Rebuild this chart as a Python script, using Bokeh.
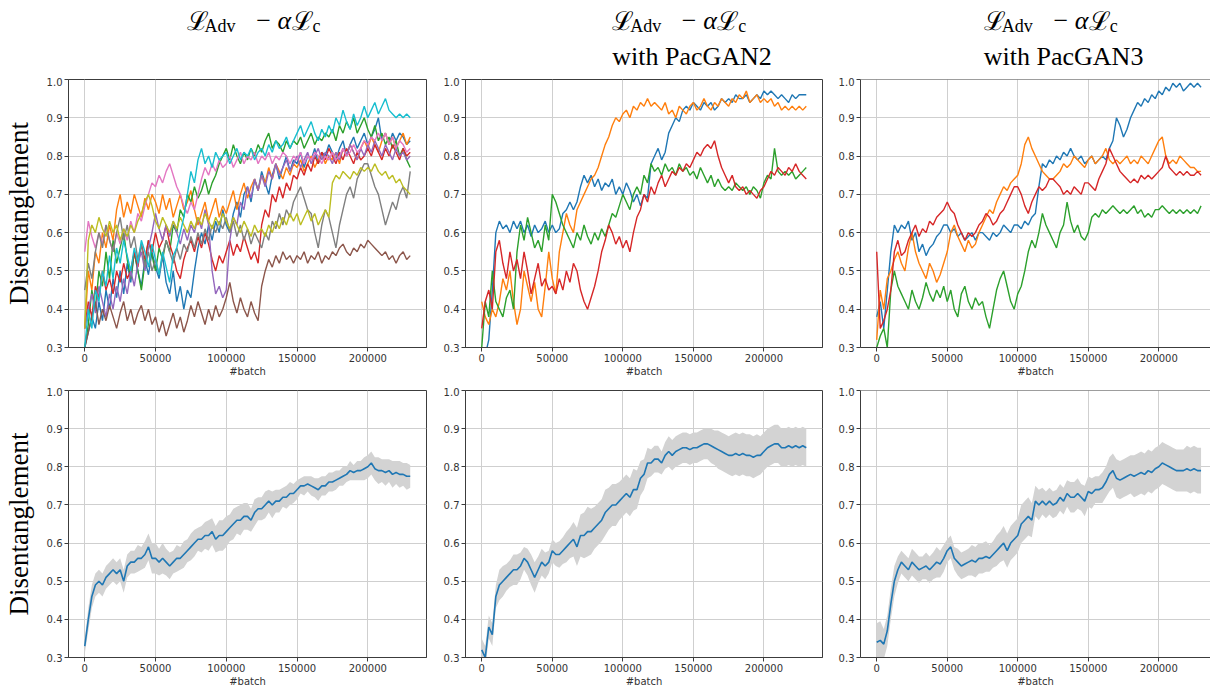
from bokeh.plotting import figure
from bokeh.layouts import column, row
from bokeh.models import (Range1d, FixedTicker, PrintfTickFormatter,
                          BasicTickFormatter, Label, Span)
from bokeh.embed import file_html
from bokeh.resources import INLINE

# training progress, one sample every 2500 batches (0 .. 230000)
batch = list(range(0, 232500, 2500))

TAB10 = ["#1f77b4", "#ff7f0e", "#2ca02c", "#d62728", "#9467bd",
         "#8c564b", "#e377c2", "#7f7f7f", "#bcbd22", "#17becf"]

# ---- L_Adv - alpha L_c : ten runs ----
plain_blue = [0.30, 0.34, 0.38, 0.35, 0.42, 0.37, 0.45, 0.40, 0.48, 0.43,
              0.50, 0.44, 0.52, 0.47, 0.55, 0.50, 0.46, 0.53, 0.49, 0.55,
              0.51, 0.48, 0.54, 0.47, 0.44, 0.50, 0.42, 0.46, 0.40, 0.45,
              0.43, 0.50, 0.56, 0.60, 0.57, 0.62, 0.58, 0.63, 0.60, 0.66,
              0.62, 0.60, 0.65, 0.68, 0.64, 0.70, 0.72, 0.68, 0.74, 0.71,
              0.76, 0.73, 0.70, 0.75, 0.78, 0.74, 0.77, 0.80, 0.76, 0.79,
              0.78, 0.81, 0.77, 0.80, 0.79, 0.82, 0.78, 0.81, 0.80, 0.83,
              0.81, 0.79, 0.82, 0.84, 0.80, 0.83, 0.85, 0.82, 0.84, 0.86,
              0.83, 0.85, 0.87, 0.90, 0.84, 0.86, 0.83, 0.86, 0.84, 0.86,
              0.85, 0.83, 0.84]
plain_orange = [0.35, 0.50, 0.45, 0.55, 0.52, 0.60, 0.56, 0.62, 0.58, 0.66,
                0.70, 0.64, 0.68, 0.65, 0.70, 0.67, 0.64, 0.69, 0.66, 0.70,
                0.68, 0.65, 0.70, 0.66, 0.69, 0.64, 0.67, 0.70, 0.66, 0.68,
                0.71, 0.66, 0.62, 0.65, 0.68, 0.63, 0.66, 0.69, 0.64, 0.67,
                0.65, 0.68, 0.71, 0.66, 0.70, 0.73, 0.69, 0.72, 0.74, 0.71,
                0.75, 0.73, 0.77, 0.74, 0.78, 0.76, 0.74, 0.77, 0.75, 0.78,
                0.77, 0.79, 0.76, 0.78, 0.80, 0.77, 0.79, 0.81, 0.78, 0.80,
                0.79, 0.81, 0.78, 0.82, 0.80, 0.83, 0.81, 0.79, 0.82, 0.84,
                0.82, 0.85, 0.83, 0.81, 0.84, 0.86, 0.83, 0.85, 0.82, 0.84,
                0.86, 0.83, 0.85]
plain_green = [0.30, 0.36, 0.45, 0.40, 0.50, 0.46, 0.55, 0.48, 0.58, 0.52,
               0.56, 0.60, 0.53, 0.48, 0.55, 0.50, 0.45, 0.52, 0.58, 0.54,
               0.50, 0.56, 0.53, 0.58, 0.55, 0.62, 0.60, 0.66, 0.64, 0.70,
               0.68, 0.72, 0.69, 0.71, 0.74, 0.70, 0.73, 0.75, 0.78, 0.80,
               0.82, 0.79, 0.83, 0.80, 0.78, 0.81, 0.79, 0.82, 0.80, 0.83,
               0.81, 0.84, 0.86, 0.82, 0.84, 0.83, 0.81, 0.84, 0.82, 0.84,
               0.83, 0.85, 0.82, 0.84, 0.86, 0.83, 0.85, 0.84, 0.86, 0.85,
               0.87, 0.84, 0.88, 0.86, 0.89, 0.87, 0.90, 0.86, 0.88, 0.90,
               0.87, 0.85, 0.88, 0.84, 0.86, 0.83, 0.85, 0.82, 0.84, 0.80,
               0.82, 0.79, 0.77]
plain_red = [0.35, 0.42, 0.38, 0.46, 0.43, 0.50, 0.45, 0.48, 0.44, 0.50,
             0.47, 0.52, 0.48, 0.50, 0.55, 0.51, 0.57, 0.53, 0.58, 0.55,
             0.60, 0.56, 0.58, 0.62, 0.57, 0.54, 0.50, 0.48, 0.53, 0.56,
             0.58, 0.55, 0.59, 0.56, 0.60, 0.57, 0.53, 0.50, 0.54, 0.52,
             0.55, 0.58, 0.54, 0.57, 0.55, 0.59, 0.56, 0.53, 0.55, 0.52,
             0.62, 0.66, 0.64, 0.70, 0.68, 0.72, 0.69, 0.73, 0.71, 0.75,
             0.74, 0.77, 0.75, 0.78, 0.76, 0.80, 0.78, 0.81, 0.79, 0.82,
             0.80, 0.78, 0.81, 0.79, 0.82, 0.80, 0.78, 0.81, 0.79, 0.80,
             0.82, 0.80, 0.83, 0.81, 0.79, 0.82, 0.80, 0.83, 0.81, 0.79,
             0.82, 0.80, 0.81]
plain_purple = [0.35, 0.40, 0.44, 0.39, 0.46, 0.42, 0.38, 0.44, 0.40, 0.46,
                0.42, 0.48, 0.44, 0.50, 0.46, 0.52, 0.55, 0.50, 0.56, 0.60,
                0.65, 0.61, 0.58, 0.62, 0.59, 0.63, 0.60, 0.57, 0.61, 0.58,
                0.62, 0.60, 0.64, 0.61, 0.66, 0.62, 0.50, 0.44, 0.46, 0.43,
                0.45, 0.58, 0.64, 0.62, 0.68, 0.66, 0.72, 0.69, 0.74, 0.71,
                0.75, 0.72, 0.76, 0.74, 0.78, 0.75, 0.77, 0.79, 0.76, 0.78,
                0.80, 0.77, 0.79, 0.81, 0.78, 0.80, 0.82, 0.79, 0.81, 0.80,
                0.78, 0.81, 0.79, 0.82, 0.80, 0.83, 0.81, 0.79, 0.82, 0.80,
                0.83, 0.81, 0.84, 0.82, 0.80, 0.83, 0.81, 0.79, 0.82, 0.80,
                0.81, 0.79, 0.80]
plain_brown = [0.30, 0.34, 0.38, 0.42, 0.36, 0.40, 0.37, 0.41, 0.38, 0.35,
               0.39, 0.42, 0.37, 0.40, 0.36, 0.39, 0.41, 0.37, 0.40, 0.36,
               0.38, 0.34, 0.37, 0.33, 0.36, 0.39, 0.35, 0.38, 0.34, 0.37,
               0.41, 0.38, 0.42, 0.39, 0.36, 0.40, 0.37, 0.41, 0.38, 0.40,
               0.43, 0.47, 0.42, 0.39, 0.43, 0.40, 0.38, 0.42, 0.39, 0.37,
               0.46, 0.50, 0.53, 0.51, 0.54, 0.52, 0.55, 0.53, 0.54, 0.52,
               0.54, 0.53, 0.55, 0.52, 0.54, 0.53, 0.55, 0.52, 0.54, 0.53,
               0.55, 0.54, 0.56, 0.57, 0.55, 0.54, 0.56, 0.55, 0.57, 0.56,
               0.58, 0.57, 0.56, 0.55, 0.54, 0.55, 0.53, 0.54, 0.52, 0.54,
               0.55, 0.53, 0.54]
plain_pink = [0.55, 0.63, 0.59, 0.56, 0.60, 0.57, 0.62, 0.58, 0.55, 0.60,
              0.57, 0.61, 0.58, 0.63, 0.60, 0.65, 0.63, 0.67, 0.70, 0.73,
              0.72, 0.75, 0.73, 0.76, 0.78, 0.75, 0.72, 0.70, 0.67, 0.65,
              0.68, 0.66, 0.70, 0.74, 0.77, 0.75, 0.78, 0.76, 0.79, 0.77,
              0.78, 0.80, 0.77, 0.79, 0.81, 0.78, 0.80, 0.79, 0.81, 0.78,
              0.80, 0.79, 0.81, 0.78, 0.80, 0.79, 0.81, 0.80, 0.78, 0.80,
              0.79, 0.81, 0.78, 0.80, 0.79, 0.81, 0.80, 0.78, 0.80, 0.79,
              0.81, 0.79, 0.80, 0.82, 0.80, 0.81, 0.83, 0.81, 0.82, 0.84,
              0.83, 0.85, 0.84, 0.86, 0.84, 0.86, 0.83, 0.85, 0.82, 0.84,
              0.83, 0.81, 0.82]
plain_gray = [0.45, 0.52, 0.48, 0.55, 0.60, 0.56, 0.62, 0.58, 0.55, 0.60,
              0.64, 0.58, 0.62, 0.56, 0.59, 0.53, 0.57, 0.51, 0.55, 0.50,
              0.53, 0.49, 0.54, 0.58, 0.55, 0.52, 0.56, 0.53, 0.57, 0.55,
              0.59, 0.56, 0.60, 0.57, 0.61, 0.58, 0.62, 0.60, 0.63, 0.61,
              0.64, 0.60, 0.63, 0.59, 0.62, 0.58, 0.61, 0.57, 0.60, 0.58,
              0.56, 0.60, 0.58, 0.63, 0.61, 0.65, 0.62, 0.66, 0.64, 0.68,
              0.70, 0.72, 0.69, 0.66, 0.65, 0.60, 0.56, 0.62, 0.66, 0.64,
              0.60, 0.56, 0.62, 0.66, 0.70, 0.72, 0.69, 0.74, 0.76, 0.78,
              0.78, 0.75, 0.72, 0.70, 0.66, 0.62, 0.65, 0.68, 0.66, 0.70,
              0.72, 0.69, 0.76]
plain_olive = [0.35, 0.58, 0.62, 0.60, 0.64, 0.61, 0.59, 0.63, 0.60, 0.62,
               0.58, 0.61, 0.59, 0.62, 0.60, 0.63, 0.65, 0.68, 0.70, 0.67,
               0.63, 0.61, 0.64, 0.62, 0.60, 0.63, 0.61, 0.64, 0.62, 0.60,
               0.63, 0.61, 0.64, 0.62, 0.65, 0.63, 0.61, 0.64, 0.62, 0.65,
               0.63, 0.61, 0.64, 0.62, 0.60, 0.63, 0.61, 0.59, 0.62, 0.60,
               0.61, 0.59, 0.62, 0.60, 0.63, 0.61, 0.64, 0.62, 0.65, 0.63,
               0.65, 0.62, 0.64, 0.66, 0.63, 0.65, 0.62, 0.64, 0.66, 0.64,
               0.73, 0.75, 0.74, 0.76, 0.75, 0.74, 0.76, 0.75, 0.77, 0.76,
               0.77, 0.76, 0.78, 0.76, 0.75, 0.76, 0.74, 0.75, 0.73, 0.74,
               0.72, 0.71, 0.70]
plain_cyan = [0.30, 0.40, 0.35, 0.45, 0.42, 0.50, 0.46, 0.54, 0.48, 0.56,
              0.52, 0.58, 0.54, 0.50, 0.56, 0.52, 0.58, 0.55, 0.51, 0.57,
              0.53, 0.49, 0.55, 0.51, 0.47, 0.54, 0.56, 0.60, 0.64, 0.70,
              0.76, 0.73, 0.79, 0.82, 0.78, 0.80, 0.77, 0.81, 0.79, 0.80,
              0.81, 0.78, 0.80, 0.82, 0.79, 0.81, 0.80, 0.82, 0.79, 0.81,
              0.82, 0.80, 0.83, 0.81, 0.84, 0.82, 0.83, 0.85, 0.82, 0.84,
              0.86, 0.88, 0.85, 0.87, 0.89, 0.86, 0.84, 0.87, 0.85, 0.88,
              0.86, 0.90, 0.88, 0.92, 0.89, 0.87, 0.91, 0.88, 0.90, 0.93,
              0.90, 0.92, 0.94, 0.91, 0.93, 0.95, 0.92, 0.91, 0.90, 0.91,
              0.90, 0.91, 0.90]

# ---- with PacGAN2 : four runs ----
pac2_blue = [0.30, 0.28, 0.32, 0.45, 0.60, 0.63, 0.61, 0.62, 0.60, 0.63,
             0.61, 0.63, 0.60, 0.62, 0.59, 0.62, 0.60, 0.61, 0.63, 0.60,
             0.62, 0.60, 0.61, 0.65, 0.66, 0.68, 0.66, 0.68, 0.72, 0.75,
             0.73, 0.75, 0.72, 0.74, 0.71, 0.73, 0.72, 0.74, 0.70, 0.72,
             0.70, 0.73, 0.71, 0.68, 0.70, 0.67, 0.70, 0.69, 0.78, 0.80,
             0.82, 0.79, 0.81, 0.86, 0.88, 0.90, 0.89, 0.92, 0.93, 0.92,
             0.94, 0.93, 0.92, 0.94, 0.93, 0.94, 0.92, 0.93, 0.95, 0.94,
             0.95, 0.94, 0.96, 0.95, 0.95, 0.96, 0.94, 0.95, 0.96, 0.95,
             0.97, 0.96, 0.97, 0.96, 0.95, 0.96, 0.95, 0.94, 0.96, 0.95,
             0.96, 0.96, 0.96]
pac2_orange = [0.42, 0.38, 0.36, 0.40, 0.38, 0.42, 0.48, 0.45, 0.50, 0.42,
               0.36, 0.40, 0.50, 0.46, 0.42, 0.47, 0.40, 0.38, 0.46, 0.55,
               0.48, 0.44, 0.55, 0.60, 0.65, 0.62, 0.60, 0.66, 0.68, 0.70,
               0.72, 0.74, 0.75, 0.77, 0.80, 0.83, 0.85, 0.88, 0.90, 0.89,
               0.91, 0.92, 0.90, 0.93, 0.92, 0.94, 0.93, 0.95, 0.93, 0.94,
               0.93, 0.92, 0.94, 0.91, 0.92, 0.90, 0.93, 0.92, 0.91, 0.93,
               0.94, 0.92, 0.93, 0.95, 0.93, 0.92, 0.94, 0.93, 0.95, 0.94,
               0.93, 0.95, 0.94, 0.96, 0.95, 0.97, 0.94, 0.95, 0.96, 0.94,
               0.95, 0.94, 0.95, 0.93, 0.94, 0.92, 0.93, 0.92, 0.93, 0.92,
               0.93, 0.92, 0.93]
pac2_green = [0.30, 0.42, 0.38, 0.50, 0.42, 0.40, 0.38, 0.43, 0.45, 0.40,
              0.55, 0.62, 0.58, 0.64, 0.60, 0.56, 0.58, 0.55, 0.62, 0.58,
              0.70, 0.68, 0.65, 0.62, 0.60, 0.58, 0.56, 0.60, 0.58, 0.62,
              0.59, 0.57, 0.60, 0.58, 0.61, 0.59, 0.62, 0.65, 0.64, 0.67,
              0.70, 0.68, 0.66, 0.70, 0.72, 0.70, 0.75, 0.73, 0.78, 0.76,
              0.77, 0.75, 0.78, 0.76, 0.77, 0.75, 0.78, 0.76, 0.77, 0.75,
              0.76, 0.74, 0.77, 0.75, 0.73, 0.75, 0.72, 0.74, 0.72, 0.71,
              0.72, 0.71, 0.73, 0.72, 0.71, 0.72, 0.70, 0.72, 0.71, 0.69,
              0.73, 0.75, 0.74, 0.82, 0.76, 0.75, 0.76, 0.75, 0.76, 0.74,
              0.75, 0.76, 0.77]
pac2_red = [0.35, 0.42, 0.45, 0.40, 0.55, 0.58, 0.52, 0.48, 0.55, 0.50,
            0.53, 0.48, 0.55, 0.50, 0.44, 0.48, 0.52, 0.46, 0.48, 0.45,
            0.46, 0.44, 0.48, 0.45, 0.50, 0.47, 0.52, 0.50, 0.45, 0.42,
            0.40, 0.43, 0.46, 0.50, 0.55, 0.58, 0.62, 0.60, 0.57, 0.59,
            0.56, 0.58, 0.55, 0.60, 0.64, 0.66, 0.70, 0.68, 0.72, 0.70,
            0.73, 0.75, 0.72, 0.74, 0.76, 0.75, 0.77, 0.76, 0.78, 0.77,
            0.79, 0.81, 0.80, 0.82, 0.83, 0.82, 0.84, 0.80, 0.77, 0.75,
            0.73, 0.75, 0.72, 0.71, 0.72, 0.70, 0.71, 0.70, 0.69, 0.71,
            0.72, 0.74, 0.76, 0.75, 0.77, 0.76, 0.75, 0.77, 0.76, 0.78,
            0.76, 0.75, 0.74]

# ---- with PacGAN3 : four runs ----
pac3_blue = [0.38, 0.42, 0.35, 0.45, 0.55, 0.62, 0.60, 0.62, 0.61, 0.63,
             0.58, 0.60, 0.55, 0.57, 0.54, 0.56, 0.57, 0.59, 0.60, 0.62,
             0.62, 0.60, 0.61, 0.59, 0.60, 0.58, 0.59, 0.60, 0.58, 0.60,
             0.60, 0.59, 0.58, 0.60, 0.59, 0.60, 0.62, 0.61, 0.60, 0.62,
             0.62, 0.61, 0.63, 0.62, 0.64, 0.65, 0.72, 0.78, 0.77, 0.79,
             0.78, 0.80, 0.79, 0.81, 0.80, 0.82, 0.80, 0.79, 0.80, 0.78,
             0.79, 0.80, 0.78, 0.79, 0.80, 0.79, 0.82, 0.84, 0.90, 0.88,
             0.85, 0.87, 0.90, 0.92, 0.94, 0.93, 0.95, 0.94, 0.96, 0.95,
             0.97, 0.96, 0.98, 0.97, 0.99, 0.98, 0.99, 0.97, 0.98, 0.99,
             0.98, 0.99, 0.98]
pac3_orange = [0.32, 0.45, 0.40, 0.48, 0.50, 0.53, 0.55, 0.52, 0.50, 0.56,
               0.60, 0.55, 0.52, 0.50, 0.48, 0.52, 0.50, 0.47, 0.49, 0.52,
               0.55, 0.60, 0.62, 0.59, 0.57, 0.55, 0.58, 0.56, 0.57, 0.60,
               0.62, 0.64, 0.66, 0.65, 0.68, 0.70, 0.72, 0.71, 0.73, 0.74,
               0.75, 0.78, 0.83, 0.85, 0.82, 0.80, 0.78, 0.76, 0.75, 0.74,
               0.74, 0.75, 0.76, 0.78, 0.77, 0.78, 0.80, 0.79, 0.78, 0.77,
               0.79, 0.80, 0.78, 0.79, 0.80, 0.82, 0.79, 0.78, 0.79, 0.78,
               0.79, 0.80, 0.78, 0.79, 0.78, 0.80, 0.79, 0.78, 0.80, 0.82,
               0.84, 0.85, 0.80, 0.78, 0.79, 0.78, 0.80, 0.79, 0.78, 0.77,
               0.77, 0.76, 0.76]
pac3_green = [0.30, 0.33, 0.35, 0.30, 0.45, 0.50, 0.46, 0.44, 0.42, 0.40,
              0.45, 0.42, 0.40, 0.43, 0.47, 0.44, 0.42, 0.45, 0.43, 0.46,
              0.42, 0.45, 0.40, 0.38, 0.44, 0.46, 0.42, 0.40, 0.43, 0.41,
              0.42, 0.38, 0.35, 0.40, 0.45, 0.48, 0.50, 0.46, 0.42, 0.40,
              0.44, 0.46, 0.50, 0.55, 0.58, 0.56, 0.60, 0.65, 0.62, 0.60,
              0.58, 0.56, 0.60, 0.62, 0.68, 0.63, 0.60, 0.62, 0.59, 0.58,
              0.60, 0.64, 0.65, 0.64, 0.66, 0.65, 0.66, 0.67, 0.66, 0.65,
              0.66, 0.65, 0.66, 0.67, 0.65, 0.66, 0.64, 0.65, 0.64, 0.66,
              0.66, 0.67, 0.66, 0.65, 0.66, 0.65, 0.66, 0.65, 0.66, 0.65,
              0.66, 0.65, 0.67]
pac3_red = [0.55, 0.35, 0.37, 0.40, 0.45, 0.55, 0.58, 0.54, 0.55, 0.58,
            0.60, 0.62, 0.59, 0.61, 0.60, 0.63, 0.62, 0.64, 0.65, 0.66,
            0.68, 0.66, 0.65, 0.62, 0.60, 0.58, 0.60, 0.59, 0.60, 0.62,
            0.63, 0.65, 0.64, 0.62, 0.63, 0.65, 0.66, 0.68, 0.70, 0.72,
            0.72, 0.70, 0.67, 0.65, 0.68, 0.70, 0.72, 0.71, 0.72, 0.74,
            0.74, 0.73, 0.72, 0.70, 0.71, 0.70, 0.72, 0.71, 0.70, 0.73,
            0.73, 0.72, 0.71, 0.74, 0.76, 0.78, 0.82, 0.80, 0.78, 0.76,
            0.75, 0.74, 0.73, 0.74, 0.73, 0.75, 0.74, 0.75, 0.74, 0.75,
            0.76, 0.77, 0.80, 0.77, 0.76, 0.75, 0.76, 0.75, 0.76, 0.75,
            0.75, 0.76, 0.75]

# ---- mean and standard deviation over the runs ----
plain_mean = [0.33, 0.40, 0.46, 0.49, 0.50, 0.49, 0.51, 0.52, 0.53, 0.52,
              0.53, 0.50, 0.54, 0.55, 0.55, 0.56, 0.56, 0.57, 0.59, 0.56,
              0.56, 0.55, 0.56, 0.55, 0.54, 0.55, 0.56, 0.56, 0.57, 0.58,
              0.59, 0.60, 0.61, 0.61, 0.62, 0.62, 0.63, 0.61, 0.62, 0.62,
              0.63, 0.64, 0.65, 0.66, 0.66, 0.67, 0.67, 0.66, 0.68, 0.69,
              0.69, 0.70, 0.71, 0.70, 0.71, 0.71, 0.72, 0.72, 0.73, 0.73,
              0.74, 0.75, 0.75, 0.755, 0.75, 0.745, 0.74, 0.75, 0.75, 0.76,
              0.76, 0.765, 0.77, 0.775, 0.78, 0.79, 0.785, 0.79, 0.79, 0.795,
              0.80, 0.81, 0.795, 0.79, 0.79, 0.785, 0.79, 0.78, 0.785, 0.78,
              0.78, 0.775, 0.775]
plain_std = [0.02, 0.03, 0.03, 0.03, 0.03, 0.03, 0.03, 0.03, 0.03, 0.03,
             0.03, 0.03, 0.03, 0.03, 0.03, 0.035, 0.03, 0.035, 0.035, 0.04,
             0.04, 0.035, 0.04, 0.035, 0.035, 0.03, 0.035, 0.03, 0.035, 0.03,
             0.035, 0.035, 0.03, 0.035, 0.035, 0.04, 0.035, 0.035, 0.04, 0.04,
             0.04, 0.035, 0.04, 0.035, 0.04, 0.035, 0.035, 0.03, 0.035, 0.03,
             0.03, 0.035, 0.03, 0.035, 0.03, 0.03, 0.025, 0.03, 0.03, 0.025,
             0.025, 0.02, 0.025, 0.02, 0.025, 0.025, 0.03, 0.025, 0.025, 0.025,
             0.025, 0.025, 0.02, 0.025, 0.02, 0.025, 0.02, 0.025, 0.025, 0.03,
             0.03, 0.03, 0.03, 0.035, 0.03, 0.035, 0.03, 0.035, 0.03, 0.035,
             0.03, 0.035, 0.03]
pac2_mean = [0.32, 0.30, 0.38, 0.36, 0.46, 0.49, 0.50, 0.51, 0.52, 0.53,
             0.53, 0.54, 0.56, 0.55, 0.53, 0.51, 0.53, 0.55, 0.54, 0.55,
             0.58, 0.57, 0.57, 0.58, 0.59, 0.60, 0.61, 0.59, 0.62, 0.62,
             0.63, 0.63, 0.64, 0.65, 0.66, 0.68, 0.69, 0.70, 0.70, 0.71,
             0.72, 0.73, 0.72, 0.74, 0.74, 0.77, 0.78, 0.81, 0.81, 0.82,
             0.82, 0.81, 0.83, 0.84, 0.83, 0.84, 0.845, 0.85, 0.85, 0.845,
             0.85, 0.85, 0.855, 0.86, 0.86, 0.855, 0.85, 0.845, 0.84, 0.835,
             0.83, 0.83, 0.835, 0.83, 0.835, 0.83, 0.83, 0.825, 0.83, 0.83,
             0.84, 0.85, 0.855, 0.86, 0.86, 0.85, 0.85, 0.855, 0.85, 0.855,
             0.85, 0.855, 0.85]
pac2_std = [0.03, 0.03, 0.03, 0.03, 0.03, 0.04, 0.04, 0.035, 0.035, 0.04,
            0.04, 0.035, 0.03, 0.035, 0.04, 0.04, 0.035, 0.035, 0.035, 0.03,
            0.03, 0.03, 0.035, 0.035, 0.04, 0.04, 0.045, 0.05, 0.055, 0.06,
            0.065, 0.06, 0.055, 0.055, 0.055, 0.06, 0.055, 0.055, 0.055, 0.05,
            0.05, 0.05, 0.05, 0.055, 0.05, 0.045, 0.04, 0.04, 0.035, 0.035,
            0.035, 0.03, 0.035, 0.04, 0.04, 0.04, 0.04, 0.04, 0.04, 0.04,
            0.04, 0.04, 0.04, 0.04, 0.04, 0.045, 0.045, 0.05, 0.05, 0.05,
            0.05, 0.055, 0.055, 0.055, 0.055, 0.055, 0.055, 0.055, 0.055, 0.05,
            0.05, 0.05, 0.05, 0.05, 0.05, 0.05, 0.05, 0.05, 0.05, 0.05,
            0.05, 0.05, 0.05]
pac3_mean = [0.34, 0.345, 0.335, 0.37, 0.44, 0.50, 0.53, 0.55, 0.54, 0.53,
             0.55, 0.54, 0.53, 0.535, 0.54, 0.53, 0.54, 0.55, 0.545, 0.56,
             0.58, 0.59, 0.56, 0.55, 0.54, 0.545, 0.55, 0.555, 0.55, 0.56,
             0.56, 0.565, 0.56, 0.57, 0.58, 0.59, 0.60, 0.58, 0.60, 0.61,
             0.62, 0.65, 0.66, 0.67, 0.66, 0.71, 0.70, 0.71, 0.70, 0.71,
             0.70, 0.705, 0.72, 0.71, 0.73, 0.72, 0.72, 0.73, 0.72, 0.71,
             0.735, 0.73, 0.74, 0.74, 0.745, 0.76, 0.78, 0.79, 0.77, 0.765,
             0.77, 0.775, 0.78, 0.775, 0.78, 0.785, 0.78, 0.79, 0.785, 0.795,
             0.80, 0.81, 0.805, 0.80, 0.795, 0.79, 0.79, 0.79, 0.795, 0.79,
             0.795, 0.79, 0.79]
pac3_std = [0.05, 0.05, 0.04, 0.04, 0.04, 0.04, 0.035, 0.03, 0.03, 0.03,
            0.035, 0.035, 0.035, 0.03, 0.035, 0.035, 0.035, 0.04, 0.035, 0.035,
            0.03, 0.03, 0.03, 0.035, 0.035, 0.035, 0.035, 0.04, 0.04, 0.04,
            0.04, 0.04, 0.035, 0.035, 0.04, 0.04, 0.045, 0.045, 0.045, 0.045,
            0.045, 0.05, 0.05, 0.05, 0.045, 0.04, 0.04, 0.035, 0.035, 0.035,
            0.035, 0.035, 0.035, 0.035, 0.035, 0.04, 0.04, 0.04, 0.035, 0.04,
            0.04, 0.04, 0.035, 0.035, 0.04, 0.04, 0.045, 0.045, 0.05, 0.05,
            0.05, 0.05, 0.05, 0.055, 0.055, 0.055, 0.055, 0.055, 0.055, 0.055,
            0.055, 0.055, 0.055, 0.055, 0.055, 0.055, 0.055, 0.055, 0.06, 0.06,
            0.06, 0.06, 0.06]

x_ticks = [0, 50000, 100000, 150000, 200000]
y_ticks = [0.3, 0.4, 0.5, 0.6, 0.7, 0.8, 0.9, 1.0]
x_label = "#batch"
y_label = "Disentanglement"

FRAME_COLOR = "#3c3c3c"
GRID_COLOR = "#cfcfcf"
TICK_TEXT = "#333333"


def panel(width, height, left, right, top, bottom, x_end, open_right, ylabel):
    p = figure(width=width, height=height,
               x_range=Range1d(-11500, x_end), y_range=Range1d(0.3, 1.0),
               output_backend="svg", toolbar_location=None,
               min_border_left=left, min_border_right=right,
               min_border_top=top, min_border_bottom=bottom)
    p.xaxis.ticker = FixedTicker(ticks=x_ticks)
    p.yaxis.ticker = FixedTicker(ticks=y_ticks)
    p.xaxis.formatter = BasicTickFormatter(use_scientific=False)
    p.yaxis.formatter = PrintfTickFormatter(format="%.1f")
    p.xaxis.axis_label = x_label
    p.xaxis.axis_label_standoff = 1
    p.xaxis.axis_label_text_font = "DejaVu Sans"
    p.xaxis.axis_label_text_font_size = "10px"
    p.xaxis.axis_label_text_font_style = "normal"
    p.xaxis.axis_label_text_color = TICK_TEXT
    for ax in (p.xaxis[0], p.yaxis[0]):
        ax.major_label_text_font = "DejaVu Sans"
        ax.major_label_text_font_size = "10px"
        ax.major_label_text_color = TICK_TEXT
        ax.major_label_standoff = 2
        ax.major_tick_out = 4
        ax.major_tick_in = 0
        ax.minor_tick_out = 0
        ax.minor_tick_in = 0
        ax.axis_line_color = FRAME_COLOR
        ax.major_tick_line_color = FRAME_COLOR
    if ylabel:
        p.yaxis.axis_label = ylabel
        p.yaxis.axis_label_text_font = "Liberation Serif"
        p.yaxis.axis_label_text_font_size = "27px"
        p.yaxis.axis_label_text_font_style = "normal"
        p.yaxis.axis_label_text_color = "#000000"
        p.yaxis.axis_label_standoff = 10
    p.grid.grid_line_color = GRID_COLOR
    p.grid.grid_line_width = 1
    if open_right:
        p.outline_line_color = None
        p.add_layout(Span(location=1.0, dimension="width",
                          line_color=FRAME_COLOR, line_width=1))
    else:
        p.outline_line_color = FRAME_COLOR
        p.outline_line_width = 1
    p.background_fill_color = "white"
    p.border_fill_color = "white"
    return p


def runs_panel(p, runs):
    for i, ys in enumerate(runs):
        p.line(batch, ys, line_color=TAB10[i], line_width=1.4)


def mean_panel(p, mean, std):
    lower = [m - s for m, s in zip(mean, std)]
    upper = [m + s for m, s in zip(mean, std)]
    p.varea(x=batch, y1=lower, y2=upper, fill_color="#d3d3d3")
    p.line(batch, mean, line_color=TAB10[0], line_width=1.6)


# column geometry: figure width, left border, right border, x range end
cols = [(440, 67, 14, 241500, False, y_label),
        (395, 22, 13, 241500, False, None),
        (375, 22, 0, 236700, True, None)]

top_runs = [
    [plain_blue, plain_orange, plain_green, plain_red, plain_purple,
     plain_brown, plain_pink, plain_gray, plain_olive, plain_cyan],
    [pac2_blue, pac2_orange, pac2_green, pac2_red],
    [pac3_blue, pac3_orange, pac3_green, pac3_red],
]
bottom_stats = [(plain_mean, plain_std), (pac2_mean, pac2_std),
                (pac3_mean, pac3_std)]

top_row, bottom_row = [], []
for (w, l, r, xe, open_r, yl), runs, (mean, std) in zip(cols, top_runs, bottom_stats):
    pt = panel(w, 310, l, r, 2, 40, xe, open_r, yl)
    runs_panel(pt, runs)
    top_row.append(pt)
    pb = panel(w, 302, l, r, 3, 31, xe, open_r, yl)
    mean_panel(pb, mean, std)
    bottom_row.append(pb)

# header with the loss formula above each column (y grows downwards here)
header = figure(width=1210, height=77, x_range=Range1d(0, 1210),
                y_range=Range1d(77, 0), output_backend="svg",
                toolbar_location=None, min_border=0)
header.axis.visible = False
header.grid.visible = False
header.outline_line_color = None
header.line([0, 1], [76, 76], line_alpha=0)

BIG = "26px"
SMALL = "18px"
title_left = [186, 611.7, 983.3]
subtitles = [None, "with PacGAN2", "with PacGAN3"]
for x0, sub in zip(title_left, subtitles):
    pieces = [
        (x0, 20, "\u2112", "DejaVu Serif", BIG, "normal", "left"),
        (x0 + 18, 25, "Adv", "Liberation Serif", SMALL, "normal", "left"),
        (x0 + 77, 20, "\u2212", "Liberation Serif", BIG, "normal", "center"),
        (x0 + 91, 20, "\u03b1", "Liberation Serif", BIG, "italic", "left"),
        (x0 + 105, 20, "\u2112", "DejaVu Serif", BIG, "normal", "left"),
        (x0 + 126, 25, "c", "Liberation Serif", SMALL, "normal", "left"),
    ]
    for px, py, txt, font, size, style, align in pieces:
        header.add_layout(Label(x=px, y=py, text=txt, text_font=font,
                                text_font_size=size, text_font_style=style,
                                text_align=align, text_baseline="middle",
                                text_color="#000000"))
    if sub:
        header.add_layout(Label(x=x0, y=56, text=sub,
                                text_font="Liberation Serif",
                                text_font_size=BIG, text_align="left",
                                text_baseline="middle",
                                text_color="#000000"))

layout = column(header, row(*top_row), row(*bottom_row))
open("out.html", "w").write(file_html(layout, INLINE))
